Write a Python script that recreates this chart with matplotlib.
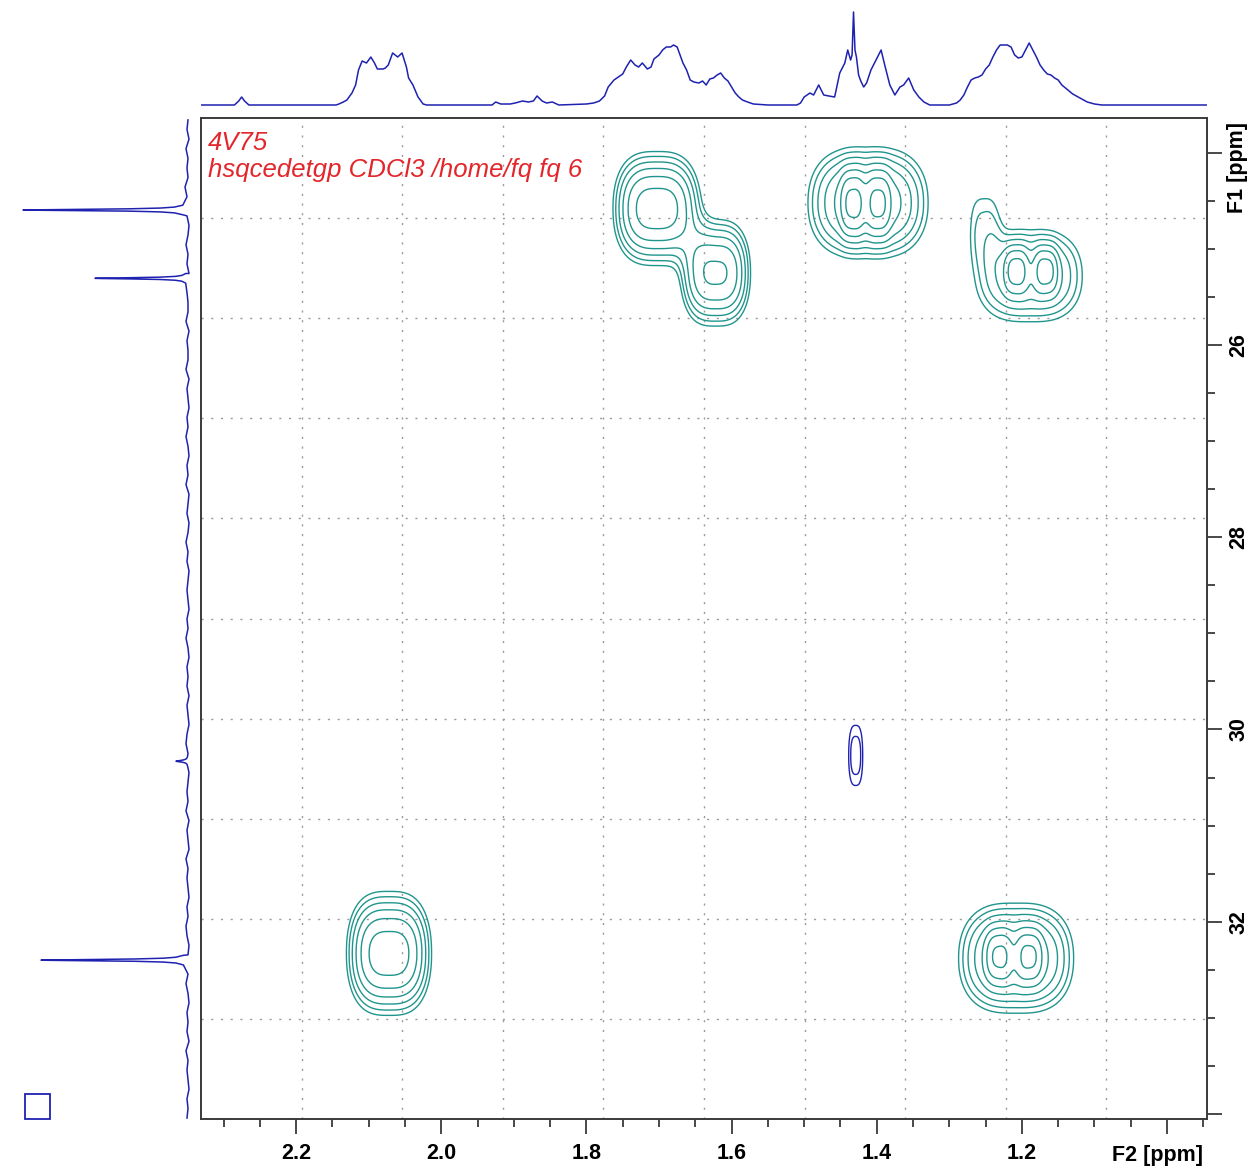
import matplotlib
matplotlib.use("Agg")
import matplotlib.pyplot as plt
import numpy as np
from matplotlib.ticker import MultipleLocator, FuncFormatter
from matplotlib.patches import Rectangle

plt.rcParams['font.family'] = ['Liberation Sans', 'DejaVu Sans']

# axis ranges (ppm)
f2_range = (2.331, 0.945)
f1_range = (23.638, 34.053)

# 2D cross peaks: centre (F2, F1), amplitude, widths
peak_f2 = [1.703, 1.622, 1.412, 1.433, 1.398, 1.190, 1.208, 1.167, 1.252, 2.072, 1.208, 1.232, 1.190, 1.429]
peak_f1 = [24.58, 25.25, 24.52, 24.53, 24.53, 25.28, 25.22, 25.22, 24.72, 32.33, 32.38, 32.36, 32.36, 30.27]
peak_amp = [6.5, 5.7, 5.0, 3.7, 3.5, 3.6, 3.0, 3.0, 1.35, 6.5, 5.0, 3.5, 3.5, -1.7]
peak_wf2 = [0.049, 0.040, 0.0706, 0.0155, 0.0155, 0.0673, 0.0152, 0.0152, 0.024, 0.0476, 0.0676, 0.0165, 0.0165, 0.0119]
peak_wf1 = [0.446, 0.43, 0.465, 0.30, 0.30, 0.427, 0.22, 0.22, 0.40, 0.485, 0.461, 0.24, 0.24, 0.417]

# 1H projection (top)
top_f2 = [2.331, 2.285, 2.279, 2.275, 2.271, 2.265,
          2.145, 2.141, 2.135, 2.13, 2.123, 2.118, 2.114, 2.109, 2.103, 2.097, 2.092, 2.088,
          2.08, 2.077, 2.073, 2.067, 2.06, 2.054, 2.048, 2.045, 2.039, 2.032, 2.025, 2.02,
          1.93, 1.925, 1.918, 1.905, 1.898, 1.888, 1.88, 1.873, 1.868, 1.861, 1.855, 1.847, 1.838,
          1.80, 1.79, 1.782, 1.775, 1.77, 1.762, 1.756, 1.75, 1.745, 1.739, 1.733, 1.728, 1.723,
          1.716, 1.711, 1.707, 1.70, 1.695, 1.69, 1.684, 1.68, 1.675, 1.671, 1.667, 1.662, 1.657,
          1.652, 1.645, 1.64, 1.635, 1.63, 1.625, 1.62, 1.615, 1.61, 1.605, 1.60, 1.595, 1.59,
          1.585, 1.578, 1.57, 1.55,
          1.51, 1.505, 1.5, 1.492, 1.487, 1.48, 1.473, 1.466, 1.458, 1.451, 1.444, 1.44, 1.436,
          1.434, 1.432, 1.43, 1.428, 1.425, 1.422, 1.418, 1.414, 1.408, 1.401, 1.394, 1.389,
          1.382, 1.375, 1.368, 1.363, 1.356, 1.349, 1.342, 1.335, 1.327,
          1.30, 1.29, 1.285, 1.28, 1.275, 1.27, 1.265, 1.26, 1.255, 1.25, 1.245, 1.24, 1.235,
          1.23, 1.225, 1.22, 1.215, 1.21, 1.205, 1.2, 1.195, 1.19, 1.185, 1.18, 1.175, 1.17,
          1.165, 1.16, 1.155, 1.15, 1.145, 1.14, 1.135, 1.13, 1.125, 1.12, 1.115, 1.11, 1.10,
          1.09, 0.945]
top_h = [0, 0, 4, 8, 4, 0,
         0, 1, 3, 5, 12, 20, 35, 44, 42, 48, 42, 36,
         36, 37, 40, 52, 48, 52, 38, 27, 20, 8, 1, 0,
         0, 3, 1, 1, 2, 4, 3, 4, 9, 4, 2, 3, 0,
         1, 2, 4, 9, 18, 25, 28, 31, 38, 45, 40, 38, 42,
         36, 38, 46, 50, 55, 58, 58, 60, 58, 50, 42, 35, 25,
         23, 22, 24, 20, 26, 27, 30, 32, 27, 24, 18, 12, 8,
         5, 3, 1, 0,
         0, 2, 8, 12, 10, 20, 10, 9, 8, 32, 42, 55, 45,
         50, 93, 55, 48, 30, 24, 18, 22, 35, 45, 55, 40,
         20, 10, 18, 20, 27, 15, 8, 3, 0,
         0, 2, 5, 10, 18, 25, 27, 28, 30, 36, 40, 48, 55,
         60, 60, 60, 58, 50, 47, 48, 55, 62, 55, 48, 40, 35,
         31, 30, 27, 25, 20, 17, 14, 11, 9, 7, 5, 3, 1,
         0, 0]

# 13C projection (left): sharp lines plus baseline wiggle
left_peak_f1 = [24.595, 25.306, 30.33, 32.40]
left_peak_h = [165, 93, 12, 147]
left_peak_w = [0.009, 0.008, 0.01, 0.009]
left_noise = [2, 3, 1, 4, 2, 3, 2, 5, 3, 2, 3, 1, 2, 4, 2, 3, 1, 2, 3, 2,
              2, 4, 1, 3, 2, 2, 4, 1, 3, 2, 1, 3, 2, 4, 2, 1, 3, 2, 4, 1,
              2, 3, 1, 2, 4, 2, 3, 1, 2, 3, 2, 1, 3, 2, 4, 2, 1, 3, 2, 3,
              1, 3, 2, 1, 3, 4, 2, 3, 1, 2, 3, 2, 4, 1, 3, 2, 1, 4, 2, 3,
              2, 1, 3, 2, 4, 3, 1, 2, 3, 2, 4, 2, 1, 3, 2, 3, 1, 4, 2, 3,
              2, 1, 3, 2, 3]

teal = '#20958d'
blue = '#1f22b0'
red = '#e3262b'
dark = '#3a3a3a'

fig = plt.figure(figsize=(12.54, 11.68), dpi=100)
W, H = 1254.0, 1168.0
ax = fig.add_axes([201 / W, 1 - 1119 / H, 1006 / W, 1001 / H])
ax_top = fig.add_axes([201 / W, 1 - 116 / H, 1006 / W, 116 / H], sharex=ax)
ax_left = fig.add_axes([0, 1 - 1119 / H, 200 / W, 1001 / H], sharey=ax)

# contour map
xs = np.linspace(f2_range[1], f2_range[0], 900)
ys = np.linspace(f1_range[0], f1_range[1], 900)
X, Y = np.meshgrid(xs, ys)
Z = np.zeros_like(X)
for x0, y0, a, wx, wy in zip(peak_f2, peak_f1, peak_amp, peak_wf2, peak_wf1):
    Z += a * np.exp(-np.abs((X - x0) / wx) ** 3 - np.abs((Y - y0) / wy) ** 2.2)

pos_levels = 1.4 ** np.arange(8)
neg_levels = -(1.4 ** np.arange(3))[::-1]
ax.contour(X, Y, Z, levels=pos_levels, colors=teal, linewidths=1.0, zorder=3)
ax.contour(X, Y, Z, levels=neg_levels, colors=blue, linewidths=1.0,
           linestyles='solid', zorder=3)

# 10 x 10 dotted grid
for f in np.arange(1, 10) / 10:
    ax.plot([f, f], [0, 1], transform=ax.transAxes, color='#9a9a9a', lw=1.0,
            ls=(0, (1.5, 5.5)), zorder=1)
    ax.plot([0, 1], [f, f], transform=ax.transAxes, color='#9a9a9a', lw=1.0,
            ls=(0, (1.5, 5.5)), zorder=1)

ax.set_xlim(f2_range[0], f2_range[1])
ax.set_ylim(f1_range[1], f1_range[0])

ax.xaxis.set_major_locator(MultipleLocator(0.2))
ax.xaxis.set_minor_locator(MultipleLocator(0.05))
ax.xaxis.set_major_formatter(FuncFormatter(lambda v, p: '' if abs(v - 1.0) < 1e-6 else f'{v:.1f}'))
ax.yaxis.tick_right()
ax.yaxis.set_major_locator(MultipleLocator(2))
ax.yaxis.set_minor_locator(MultipleLocator(0.5))
ax.yaxis.set_major_formatter(FuncFormatter(lambda v, p: '' if (abs(v - 24) < 1e-6 or abs(v - 34) < 1e-6) else f'{v:.0f}'))

ax.tick_params(which='both', direction='out', color=dark, width=1.3)
ax.tick_params(which='major', length=10.5)
ax.tick_params(which='minor', length=5.5)
ax.tick_params(axis='x', labelsize=15.5, pad=7)
ax.tick_params(axis='y', labelsize=15.5, pad=5, labelrotation=90)
for lbl in ax.get_xticklabels() + ax.get_yticklabels():
    lbl.set_fontweight('bold')
for lbl in ax.get_yticklabels():
    lbl.set_va('center')
for s in ax.spines.values():
    s.set_color(dark)
    s.set_linewidth(1.4)

ax.text(0.996, -0.036, 'F2 [ppm]', transform=ax.transAxes, ha='right', va='center',
        fontsize=15.5, fontweight='bold')
ax.text(1.0308, 0.996, 'F1 [ppm]', transform=ax.transAxes, ha='center', va='top',
        rotation=90, fontsize=15.5, fontweight='bold')

ax.text(0.007, 0.968, '4V75', transform=ax.transAxes, ha='left', va='baseline',
        fontsize=18.5, style='italic', color=red)
ax.text(0.007, 0.941, 'hsqcedetgp CDCl3 /home/fq fq 6', transform=ax.transAxes, ha='left',
        va='baseline', fontsize=18.5, style='italic', color=red)

# top projection
ax_top.plot(top_f2, top_h, color=blue, lw=1.1)
ax_top.set_ylim(-11, 105)
ax_top.axis('off')

# left projection
noise_f1 = np.linspace(f1_range[0] + 0.02, f1_range[1] - 0.01, len(left_noise))
offsets = np.array([-0.05, -0.03, -0.02, -0.012, -0.006, -0.002, 0, 0.002, 0.006, 0.012, 0.02, 0.03, 0.05])
keep = np.ones(len(noise_f1), bool)
for c in left_peak_f1:
    keep &= np.abs(noise_f1 - c) > 0.05
trace_f1 = list(noise_f1[keep])
trace_h = list(np.array(left_noise)[keep])
for c, h, w in zip(left_peak_f1, left_peak_h, left_peak_w):
    trace_f1 += list(c + offsets)
    trace_h += list(2 + h / (1 + (offsets / w) ** 2))
order = np.argsort(trace_f1)
ax_left.plot(np.array(trace_h)[order], np.array(trace_f1)[order], color=blue, lw=1.1)
ax_left.set_xlim(190, -10)
ax_left.axis('off')

fig.add_artist(Rectangle((25 / W, 1 - 1119 / H), 25 / W, 25 / H, transform=fig.transFigure,
                         fill=False, ec=blue, lw=1.3))

fig.savefig('out.png', dpi=100)
